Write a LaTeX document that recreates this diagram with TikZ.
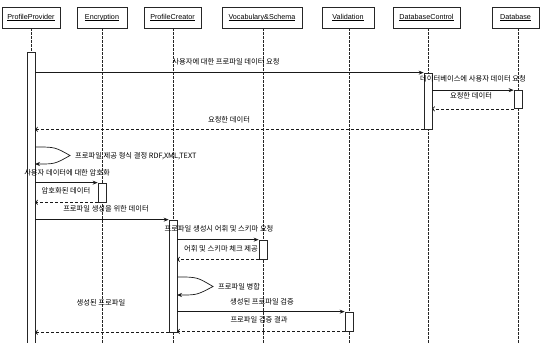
\documentclass[tikz,border=0pt]{standalone}
\usepackage{fontspec}
\setmainfont{Liberation Sans}
\newfontfamily\kr{Noto Sans CJK KR}
\usetikzlibrary{arrows.meta}
% underlined object name with a fixed-weight rule
\newcommand\objname[1]{\setbox0\hbox{#1}\rlap{\raisebox{-1.6pt}{\rule{\wd0}{0.55pt}}}\box0}

\begin{document}
\begin{tikzpicture}[x=1pt,y=-1pt,
  head/.style={draw=black!85, fill=white, line width=0.8pt, minimum height=21pt,
    inner sep=0pt, font=\fontsize{7.2}{8}\selectfont},
  life/.style={draw=black!85, line width=0.6pt, dash pattern=on 2.5pt off 1.5pt},
  act/.style={draw=black!85, fill=white, line width=0.7pt, minimum width=8pt, inner sep=0pt},
  call/.style={draw=black!90, line width=0.7pt, -{Stealth[length=5pt,width=4pt]}},
  ret/.style={draw=black!90, line width=0.7pt, dash pattern=on 3pt off 2pt,
    -{To[length=2.5pt,width=5pt]}},
  msg/.style={font=\kr\fontsize{7.3}{8}\selectfont, inner sep=0pt}
]
\useasboundingbox (0,0) rectangle (544,343);
\fill[white] (0,0) rectangle (544,343);

% object headers
\node[head, minimum width=58pt] (pp)  at (31,17.5)    {\objname{ProfileProvider}};
\node[head, minimum width=50pt] (enc) at (102,17.5)   {\objname{Encryption}};
\node[head, minimum width=57pt] (pc)  at (172.5,17.5) {\objname{ProfileCreator}};
\node[head, minimum width=80pt] (voc) at (262,17.5)   {\objname{Vocabulary\&Schema}};
\node[head, minimum width=52pt] (val) at (348,17.5)   {\objname{Validation}};
\node[head, minimum width=67pt] (dbc) at (426.5,17.5) {\objname{DatabaseControl}};
\node[head, minimum width=47pt] (db)  at (515.5,17.5) {\objname{Database}};

% lifelines
\coordinate (ppE)  at (31,343);
\coordinate (encE) at (102,343);
\coordinate (pcE)  at (173,343);
\coordinate (vocE) at (263,343);
\coordinate (valE) at (349,343);
\coordinate (dbcE) at (428,343);
\coordinate (dbE)  at (518,343);
\draw[life] (ppE  |- pp.south)  -- (ppE);
\draw[life] (encE |- enc.south) -- (encE);
\draw[life] (pcE  |- pc.south)  -- (pcE);
\draw[life] (vocE |- voc.south) -- (vocE);
\draw[life] (valE |- val.south) -- (valE);
\draw[life] (dbcE |- dbc.south) -- (dbcE);
\draw[life] (dbE  |- db.south)  -- (dbE);

% activation bars
\node[act, minimum height=296pt] (ppA)  at (31,200)   {};
\node[act, minimum height=56pt]  (dbcA) at (428,101)  {};
\node[act, minimum height=18pt]  (dbA)  at (518,99.5) {};
\node[act, minimum height=19pt]  (encA) at (102,192.5){};
\node[act, minimum height=112pt] (pcA)  at (173,276)  {};
\node[act, minimum height=19pt]  (vocA) at (263,249.5){};
\node[act, minimum height=19pt]  (valA) at (349,321.5){};

% messages
\draw[call] (ppA.east |- dbcA.north) -- (dbcA.north west);
\node[msg] (t1) at (226,62) {사용자에 대한 프로파일 데이터 요청};

\draw[call] (dbcA.east |- dbA.north) -- (dbA.north west);
\node[msg] (t2) at (473,79) {데이터베이스에 사용자 데이터 요청};

\draw[ret] (dbA.south west) -- (dbcA.east |- dbA.south);
\node[msg] (t3) at (471,96) {요청한 데이터};

\draw[ret] (dbcA.south west) -- (ppA.east |- dbcA.south);
\node[msg] (t4) at (229,120) {요청한 데이터};

% self call: format selection
\coordinate (s1a) at (35,147);
\coordinate (s1b) at (35,164);
\draw[call] (s1a) .. controls (55,147) .. (70,155.5) .. controls (55,164) .. (s1b);
\node[msg, anchor=west] (t5) at (75,156) {프로파일 제공 형식 결정 RDF,XML,TEXT};

\draw[call] (ppA.east |- encA.north) -- (encA.north west);
\node[msg] (t6) at (67,173) {사용자 데이터에 대한 암호화};

\draw[ret] (encA.south west) -- (ppA.east |- encA.south);
\node[msg] (t7) at (66,191) {암호화된 데이터};

\draw[call] (ppA.east |- pcA.north) -- (pcA.north west);
\node[msg] (t8) at (106,209) {프로파일 생성을 위한 데이터};

\draw[call] (pcA.east |- vocA.north) -- (vocA.north west);
\node[msg] (t9) at (219,229) {프로파일 생성시 어휘 및 스키마 요청};

\draw[ret] (vocA.south west) -- (pcA.east |- vocA.south);
\node[msg] (t10) at (221,249) {어휘 및 스키마 체크 제공};

% self call: merge
\coordinate (s2a) at (177,277);
\coordinate (s2b) at (177,295);
\draw[call] (s2a) .. controls (197,277) .. (213,286.5) .. controls (197,295) .. (s2b);
\node[msg, anchor=west] (t11) at (218,287) {프로파일 병합};

\draw[call] (pcA.east |- valA.north) -- (valA.north west);
\node[msg] (t12) at (262,302) {생성된 프로파일 검증};

\draw[ret] (valA.south west) -- (pcA.east |- valA.south);
\node[msg] (t13) at (259,320) {프로파일 검증 결과};

\draw[ret] (pcA.south west) -- (ppA.east |- pcA.south);
\node[msg] (t14) at (101,303) {생성된 프로파일};
\end{tikzpicture}
\end{document}
